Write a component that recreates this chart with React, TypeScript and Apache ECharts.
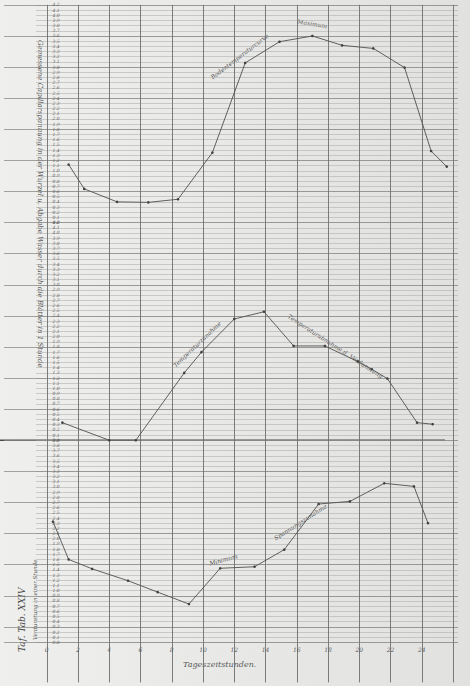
import React, { useEffect, useRef } from 'react';
import * as echarts from 'echarts';

// ---- data (read from the scanned plate) ----
const hourLabels = ['0', '2', '4', '6', '8', '10', '12', '14', '16', '18', '20', '22', '24'];

const hoursTop = [1.4, 2.4, 4.5, 6.5, 8.4, 10.6, 12.7, 14.9, 17.0, 18.9, 20.9, 22.9, 24.6, 25.6];
const valuesTop = [1.12, 0.65, 0.4, 0.39, 0.45, 1.35, 3.08, 3.49, 3.6, 3.42, 3.36, 2.99, 1.38, 1.08];

const hoursMid = [1.0, 4.0, 5.7, 8.8, 9.9, 12.0, 13.9, 15.8, 17.8, 19.9, 20.8, 21.8, 23.7, 24.7];
const valuesMid = [0.34, 0.0, 0.0, 1.3, 1.7, 2.34, 2.48, 1.82, 1.82, 1.52, 1.37, 1.19, 0.34, 0.31];

const hoursBot = [0.4, 1.4, 2.9, 5.2, 7.1, 9.1, 11.1, 13.3, 15.2, 17.4, 19.4, 21.6, 23.5, 24.4];
const valuesBot = [2.33, 1.6, 1.42, 1.19, 0.97, 0.74, 1.43, 1.46, 1.79, 2.67, 2.72, 3.07, 3.01, 2.3];

const panelMax = [4.2, 4.2, 3.9];

const zip = (xs: number[], ys: number[]) => xs.map((x, i) => [x, ys[i]]);

export default function App() {
  const ref = useRef<HTMLDivElement>(null);

  useEffect(() => {
    const el = ref.current;
    if (!el) return;
    const chart = echarts.init(el, null, { renderer: 'svg' });

    const TOP = 4.9;
    const MINOR = 5.183;
    const X0 = 46.75;
    const XW = 406.25;
    const panelTop = [TOP, TOP + 42 * MINOR, TOP + 84 * MINOR];
    const panelH = [42 * MINOR, 42 * MINOR, 39 * MINOR];
    const vColor = '#6e6e6e';
    const font = '"DejaVu Serif", "Liberation Serif", serif';

    const dataX = (gi: number, bottom: boolean) => ({
      type: 'value',
      gridIndex: gi,
      min: 0,
      max: 26,
      interval: 2,
      axisLine: { show: false },
      axisTick: bottom
        ? { show: true, length: 40, lineStyle: { color: vColor, width: 0.9 } }
        : { show: false },
      axisLabel: bottom
        ? {
            show: true,
            margin: 4,
            fontSize: 6,
            fontStyle: 'italic',
            fontFamily: font,
            color: '#5a5a5a',
            formatter: (v: number) => {
              const i = Math.round(v / 2);
              return v <= 24 ? hourLabels[i] : '';
            },
          }
        : { show: false },
      splitLine: { show: true, lineStyle: { color: vColor, width: 0.9 } },
    });

    const dataY = (gi: number, max: number) => ({
      type: 'value',
      gridIndex: gi,
      min: 0,
      max,
      interval: 0.1,
      axisLine: { show: false },
      axisTick: { show: false },
      splitLine: { show: false },
      axisLabel: {
        show: true,
        margin: -13,
        fontSize: 4.5,
        fontStyle: 'italic',
        fontFamily: font,
        color: '#606060',
        formatter: (v: number) => v.toFixed(1),
      },
    });

    const lineSeries = (gi: number, xs: number[], ys: number[], name: string) => ({
      type: 'line',
      name,
      xAxisIndex: gi,
      yAxisIndex: gi,
      data: zip(xs, ys),
      symbol: 'circle',
      symbolSize: 2.6,
      itemStyle: { color: '#404040' },
      lineStyle: { color: '#505050', width: 0.9 },
      silent: true,
    });

    const note = (x: number, y: number, rot: number, text: string, size = 6) => ({
      type: 'text',
      x,
      y,
      rotation: rot,
      style: {
        text,
        fill: '#555555',
        font: `italic ${size}px ${font}`,
        align: 'left',
        verticalAlign: 'bottom',
      },
      silent: true,
    });

    const option: any = {
      animation: false,
      backgroundColor: new echarts.graphic.LinearGradient(0, 0, 1, 0, [
        { offset: 0, color: '#efefed' },
        { offset: 1, color: '#e1e1df' },
      ]),
      grid: [
        { left: 36, top: TOP, width: 422, height: 123 * MINOR },
        { left: 4, top: TOP, width: 454, height: 123 * MINOR },
        { left: X0, top: panelTop[0], width: XW, height: panelH[0] },
        { left: X0, top: panelTop[1], width: XW, height: panelH[1] },
        { left: X0, top: panelTop[2], width: XW, height: panelH[2] },
      ],
      xAxis: [
        { type: 'value', gridIndex: 0, show: false, min: 0, max: 1 },
        { type: 'value', gridIndex: 1, show: false, min: 0, max: 1 },
        dataX(2, false),
        dataX(3, false),
        dataX(4, true),
      ],
      yAxis: [
        {
          type: 'value',
          gridIndex: 0,
          inverse: true,
          min: 0,
          max: 123,
          interval: 1,
          axisLine: { show: false },
          axisTick: { show: false },
          axisLabel: { show: false },
          splitLine: { show: true, lineStyle: { color: '#b0b0ae', width: 0.6 } },
        },
        {
          type: 'value',
          gridIndex: 1,
          inverse: true,
          min: 0,
          max: 123,
          interval: 6,
          axisLine: { show: false },
          axisTick: { show: false },
          axisLabel: { show: false },
          splitLine: { show: true, lineStyle: { color: '#888886', width: 0.75 } },
        },
        dataY(2, panelMax[0]),
        dataY(3, panelMax[1]),
        dataY(4, panelMax[2]),
      ],
      series: [
        { type: 'line', xAxisIndex: 0, yAxisIndex: 0, data: [] },
        lineSeries(2, hoursTop, valuesTop, 'top'),
        lineSeries(3, hoursMid, valuesMid, 'middle'),
        lineSeries(4, hoursBot, valuesBot, 'bottom'),
      ],
      graphic: [
        {
          type: 'line',
          shape: { x1: 0, y1: TOP + 84 * MINOR, x2: 445, y2: TOP + 84 * MINOR },
          style: { stroke: '#4a4a4a', lineWidth: 1.5 },
          silent: true,
        },
        note(213, 80, 0.65, 'Bodentemperaturcurve'),
        note(297, 24, -0.16, 'Maximum'),
        note(176, 368, 0.76, 'Temperaturzunahme'),
        note(287, 318, -0.576, 'Temperaturabnahme d. Verdunstung'),
        note(210, 566, 0.26, 'Minimum'),
        note(276, 541, 0.57, 'Spannungszunahme'),
        {
          type: 'text',
          x: 36,
          y: 40,
          rotation: -Math.PI / 2,
          style: {
            text: 'Gemessene Capillarspannung in der Wurzel u. Abgabe Wasser durch die Blätter in 1 Stunde',
            fill: '#555555',
            font: `italic 7px ${font}`,
            align: 'left',
            verticalAlign: 'bottom',
          },
          silent: true,
        },
        {
          type: 'text',
          x: 26,
          y: 652,
          rotation: Math.PI / 2,
          style: {
            text: 'Taf. Tab. XXIV',
            fill: '#4a4a4a',
            font: `italic 9px ${font}`,
            align: 'left',
            verticalAlign: 'bottom',
          },
          silent: true,
        },
        {
          type: 'text',
          x: 38,
          y: 640,
          rotation: Math.PI / 2,
          style: {
            text: 'Verdunstung in einer Stunde',
            fill: '#555555',
            font: `italic 5.5px ${font}`,
            align: 'left',
            verticalAlign: 'bottom',
          },
          silent: true,
        },
        {
          type: 'text',
          x: 183,
          y: 668,
          style: {
            text: 'Tageszeitstunden.',
            fill: '#5a5a5a',
            font: `italic 8px ${font}`,
            align: 'left',
            verticalAlign: 'bottom',
          },
          silent: true,
        },
      ],
    };

    chart.setOption(option);
    return () => chart.dispose();
  }, []);

  return (
    <div
      ref={ref}
      style={{ position: 'absolute', left: 0, top: 0, width: 470, height: 686 }}
    />
  );
}
